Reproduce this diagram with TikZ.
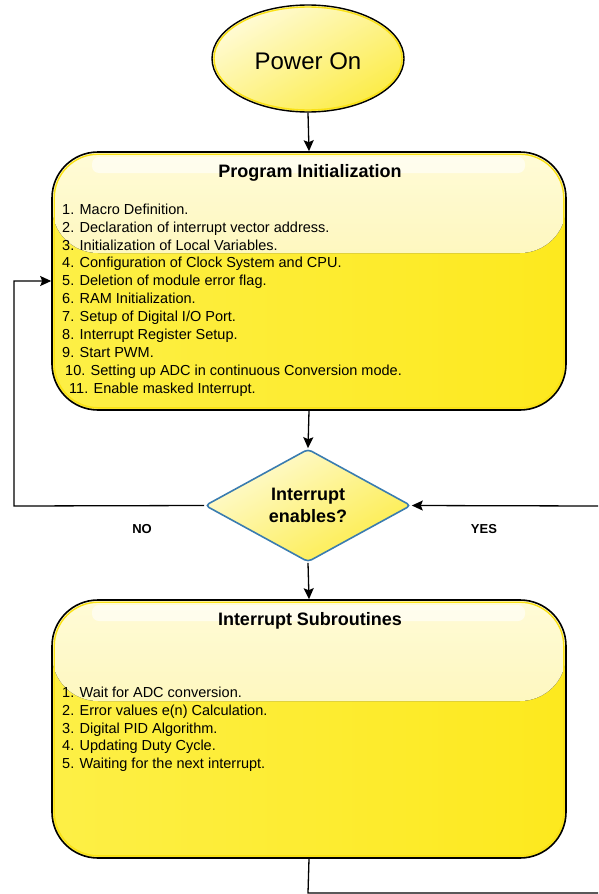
\documentclass[tikz,border=0pt]{standalone}
\usepackage{fontspec}
\setmainfont{Liberation Sans}
\usetikzlibrary{shapes.geometric,arrows.meta}
\definecolor{ylw}{RGB}{253,233,30}
\definecolor{ylwL}{RGB}{253,239,70}
\definecolor{ylwS}{RGB}{252,236,70}
\definecolor{pale}{RGB}{255,251,215}
\definecolor{paleB}{RGB}{251,242,155}
\definecolor{ring}{RGB}{250,225,20}
\definecolor{dblue}{RGB}{58,124,176}
\begin{document}
\begin{tikzpicture}[x=1pt,y=-1pt,
  procbox/.style={rectangle, rounded corners=46pt, minimum width=514pt, minimum height=258pt,
    draw=black, line width=1.6pt, left color=ylwL, right color=ylw, inner sep=0pt,
    path picture={
      \fill[top color=pale, bottom color=paleB]
        (path picture bounding box.north west) rectangle ([yshift=-101pt]path picture bounding box.north east);
      \fill[white, opacity=0.6, rounded corners=7pt]
        ([xshift=40pt,yshift=-5pt]path picture bounding box.north west) rectangle
        ([xshift=-41pt,yshift=-21pt]path picture bounding box.north east);
      \draw[ring, line width=1.4pt, rounded corners=44pt]
        ([shift={(2.2pt,-2.2pt)}]path picture bounding box.north west) rectangle
        ([shift={(-2.2pt,2.2pt)}]path picture bounding box.south east);
    }},
  startbox/.style={ellipse, minimum width=192pt, minimum height=107pt, inner sep=0pt,
    draw=black, line width=1.4pt, shading=axis, top color=pale, bottom color=ylwS, shading angle=30,
    path picture={
      \draw[ring, line width=1.4pt]
        (path picture bounding box.center) ellipse [x radius=94pt, y radius=51.5pt];
    }},
  decbox/.style={diamond, minimum width=206pt, minimum height=113pt, inner sep=0pt,
    draw=dblue, line width=1.6pt, rounded corners=4pt, shading=axis, top color=pale, bottom color=ylwS, shading angle=30},
  titletxt/.style={font=\fontsize{18}{22}\selectfont\bfseries},
  listtxt/.style={font=\fontsize{14.5}{17.9}\selectfont, align=left, inner sep=0pt, anchor=north west},
  lbl/.style={font=\fontsize{13}{15}\selectfont\bfseries, inner sep=0pt},
  arr/.style={line width=1.3pt, -{Stealth[length=11pt,width=10pt,inset=2pt]}},
  conn/.style={line width=1.3pt}
]
\useasboundingbox (0,0) rectangle (598,894);

% Power On
\node[startbox] (power) at (308,58.5) {};
\node[font=\fontsize{24}{28}\selectfont] (powertxt) at (308,61) {Power On};

% Program Initialization
\node[procbox] (init) at (309,281) {};
\node[titletxt, anchor=base] (inittitle) at (310,177.5) {Program Initialization};
\node[listtxt] (initlist) at (62,203.5) {1. Macro Definition.\\
2. Declaration of interrupt vector address.\\
3. Initialization of Local Variables.\\
4. Configuration of Clock System and CPU.\\
5. Deletion of module error flag.\\
6. RAM Initialization.\\
7. Setup of Digital I/O Port.\\
8. Interrupt Register Setup.\\
9. Start PWM.\\
\hspace*{3pt}10. Setting up ADC in continuous Conversion mode.\\
\hspace*{7pt}11. Enable masked Interrupt.};

% Decision
\node[decbox] (dec) at (308,505.5) {};
\node[titletxt, align=center, inner sep=0pt] (dectxt) at (308,505.5) {Interrupt\\enables?};

% Interrupt Subroutines
\node[procbox] (isr) at (309,729) {};
\node[titletxt, anchor=base] (isrtitle) at (310,625.5) {Interrupt Subroutines};
\node[listtxt] (isrlist) at (62,686.5) {1. Wait for ADC conversion.\\
2. Error values e(n) Calculation.\\
3. Digital PID Algorithm.\\
4. Updating Duty Cycle.\\
5. Waiting for the next interrupt.};

% labels
\node[lbl] (no) at (142,529) {NO};
\node[lbl] (yes) at (484,529) {YES};

% coordinates
\coordinate (noturn) at (14,506);
\coordinate (bot) at (308,893);
\coordinate (botend) at (598,893);
\coordinate (yesin) at (598,506);

% connectors
\draw[arr] (power.south) -- (init.north);
\draw[arr] (init.south) -- (dec.north);
\draw[arr] (dec.south) -- (isr.north);
\draw[arr] (dec.west) -- (noturn) |- (init.west);
\draw[arr] (yesin) -- (dec.east);
\draw[conn] (isr.south) -- (bot) -- (botend);
\end{tikzpicture}
\end{document}
